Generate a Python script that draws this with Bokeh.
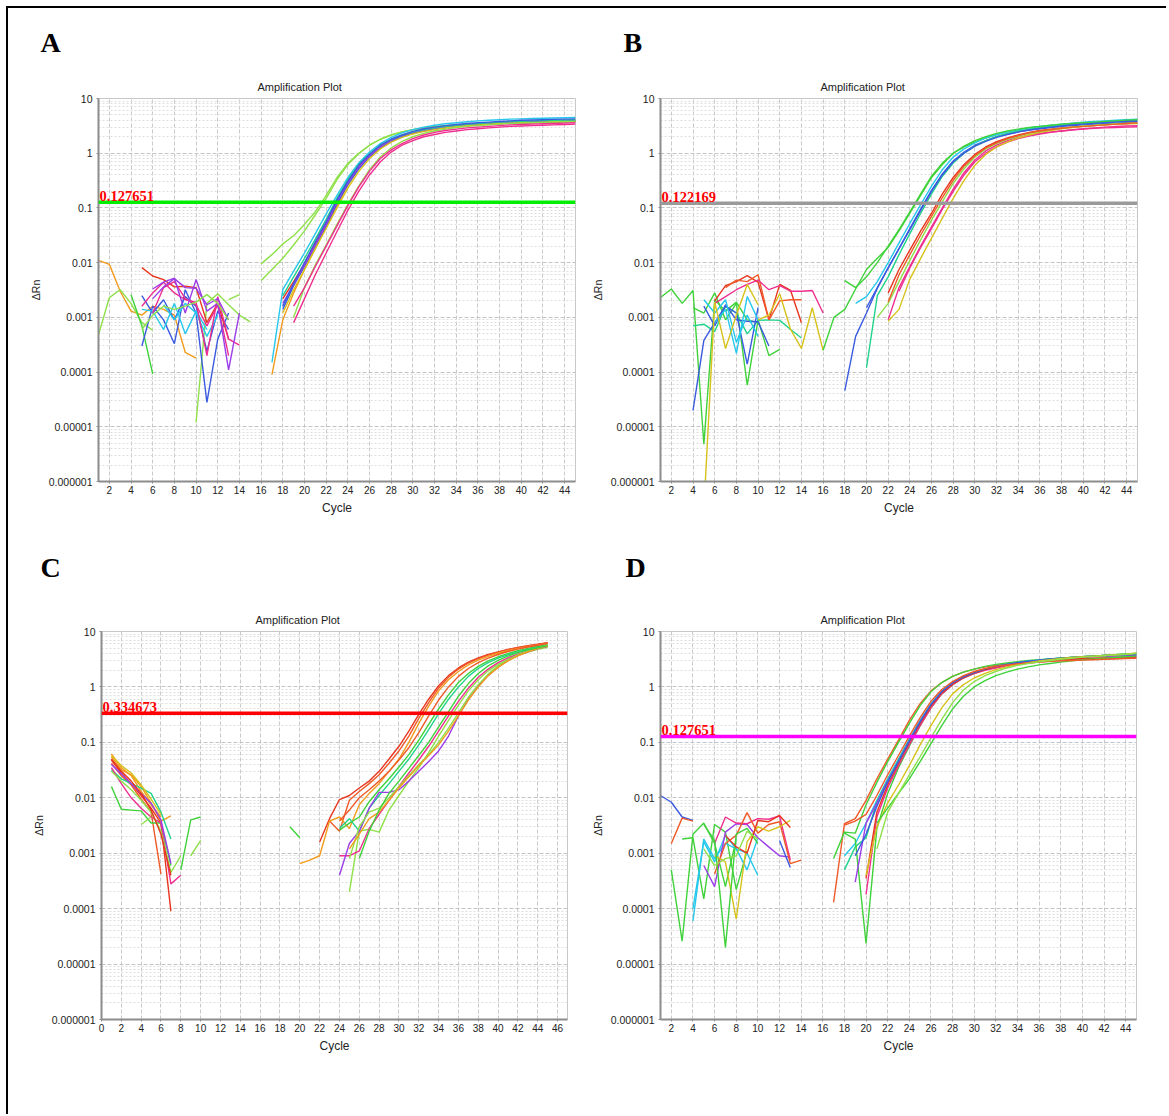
from bokeh.plotting import figure
from bokeh.layouts import row, column
from bokeh.models import FixedTicker, Span, Label, ColumnDataSource, CustomJSTickFormatter, Title
from bokeh.embed import file_html
from bokeh.resources import INLINE

PAL = {"red": "#e8351e", "orange": "#f29b1d", "yellow": "#d6c21c", "green": "#3fd23a",
       "lime": "#8fe04a", "teal": "#1fd38a", "cyan": "#25c8ec", "blue": "#3a5be0",
       "purple": "#9b3de8", "pink": "#ef2f8f", "orred": "#f05a28"}

Y_TICKS = [1e-6, 1e-5, 1e-4, 1e-3, 1e-2, 1e-1, 1, 10]
X_TICKS_ABD = list(range(2, 45, 2))
X_TICKS_C = list(range(0, 47, 2))

# ---------------- Panel A : (first cycle, ΔRn per cycle) ----------------
A_segments = [
    (1, [0.011, 0.0093, 0.003, 0.0013, 0.0011, 0.0016, 0.0014, 0.0011, 0.00023, 0.00018]),
    (1, [0.00048, 0.0023, 0.0032, 0.0018, 0.0008, 0.00058]),
    (4, [0.0026, 0.0007, 0.000093]),
    (10, [0.000012, 0.0018, 0.0027, 0.0017, 0.0011, 0.00083]),
    (5, [0.0003, 0.0016, 0.0009, 0.00033, 0.0032, 0.0012, 0.000028, 0.0004, 0.0012]),
    (5, [0.0025, 0.0012, 0.0021, 0.0009, 0.0024, 0.0016, 0.00024, 0.0013, 0.0006]),
    (5, [0.0014, 0.0013, 0.0006, 0.0018, 0.0005, 0.0013, 0.0006]),
    (7, [0.0017, 0.0009, 0.0018, 0.0012, 0.00045, 0.0011]),
    (5, [0.0081, 0.0057, 0.0049, 0.0036, 0.0037, 0.0035, 0.0008, 0.0018, 0.0004]),
    (5, [0.0016, 0.0028, 0.0044, 0.0028, 0.0021, 0.0019, 0.0002, 0.0024, 0.0004, 0.00031]),
    (6, [0.0012, 0.0035, 0.0045, 0.0022, 0.0017, 0.0007, 0.0017, 0.0002]),
    (6, [0.0033, 0.0044, 0.0052, 0.0012, 0.0049, 0.0013, 0.0018, 0.00011, 0.0012]),
    (6, [0.0022, 0.0036, 0.0051, 0.0035, 0.0034, 0.0017, 0.0022, 0.0009]),
    (5, [0.0006, 0.0011, 0.0016, 0.0014, 0.0016, 0.0019, 0.0026, 0.0018, 0.0009]),
    (13, [0.0021, 0.0026]),
    (16, [0.0095, 0.014, 0.022, 0.031, 0.05, 0.085, 0.17, 0.36, 0.65, 1.0, 1.4, 1.8, 2.15, 2.45, 2.7,
          2.9, 3.05, 3.2, 3.3, 3.4, 3.5, 3.55, 3.6, 3.65, 3.7, 3.75, 3.8, 3.85, 3.9, 3.95]),
    (16, [0.0047, 0.0075, 0.012, 0.021, 0.038, 0.075, 0.15, 0.33, 0.62, 0.98, 1.4, 1.8, 2.15, 2.45, 2.7,
          2.9, 3.05, 3.2, 3.3, 3.4, 3.5, 3.55, 3.6, 3.65, 3.7, 3.75, 3.8, 3.85, 3.9, 3.95]),
    (17, [0.00015, 0.0032, 0.007, 0.015, 0.034, 0.078, 0.17, 0.36, 0.66, 1.05, 1.5, 1.95, 2.35, 2.7, 3.0,
          3.25, 3.45, 3.6, 3.75, 3.9, 4.0, 4.1, 4.2, 4.25, 4.3, 4.35, 4.4, 4.45, 4.5]),
    (17, [0.00009, 0.0009, 0.0028, 0.0075, 0.018, 0.045, 0.11, 0.26, 0.52, 0.88, 1.3, 1.7, 2.05, 2.35, 2.6,
          2.8, 2.95, 3.1, 3.2, 3.3, 3.4, 3.5, 3.55, 3.6, 3.65, 3.7, 3.75, 3.8, 3.85]),
    (18, [0.0022, 0.0045, 0.0095, 0.022, 0.052, 0.14, 0.30, 0.56, 0.90, 1.3, 1.7, 2.05, 2.35, 2.6,
          2.8, 2.95, 3.1, 3.2, 3.3, 3.4, 3.5, 3.55, 3.6, 3.65, 3.7, 3.75, 3.8, 3.85]),
    (18, [0.0014, 0.0038, 0.0085, 0.02, 0.047, 0.12, 0.27, 0.52, 0.86, 1.25, 1.65, 2.0, 2.3, 2.55,
          2.75, 2.95, 3.1, 3.2, 3.3, 3.4, 3.5, 3.55, 3.6, 3.65, 3.7, 3.75, 3.8, 3.85]),
    (18, [0.0018, 0.004, 0.009, 0.021, 0.05, 0.13, 0.29, 0.55, 0.9, 1.3, 1.72, 2.1, 2.4, 2.65,
          2.85, 3.0, 3.15, 3.3, 3.4, 3.5, 3.6, 3.65, 3.7, 3.75, 3.8, 3.85, 3.9, 3.95]),
    (18, [0.0012, 0.0032, 0.0075, 0.018, 0.042, 0.1, 0.23, 0.46, 0.8, 1.2, 1.6, 1.95, 2.25, 2.5,
          2.7, 2.9, 3.05, 3.2, 3.3, 3.4, 3.5, 3.55, 3.6, 3.65, 3.7, 3.75, 3.8, 3.85]),
    (19, [0.001, 0.0035, 0.009, 0.021, 0.05, 0.115, 0.25, 0.5, 0.85, 1.25, 1.65, 2.0, 2.3, 2.55,
          2.75, 2.95, 3.1, 3.2, 3.3, 3.4, 3.5, 3.55, 3.6, 3.65, 3.7, 3.75, 3.8]),
    (19, [0.0008, 0.0022, 0.006, 0.015, 0.037, 0.09, 0.2, 0.4, 0.7, 1.05, 1.4, 1.7, 2.0, 2.2,
          2.4, 2.55, 2.7, 2.8, 2.9, 3.0, 3.1, 3.15, 3.2, 3.25, 3.3, 3.35, 3.4]),
    (19, [0.0016, 0.0035, 0.0085, 0.02, 0.047, 0.11, 0.24, 0.47, 0.8, 1.15, 1.5, 1.85, 2.15, 2.4,
          2.6, 2.75, 2.9, 3.0, 3.1, 3.2, 3.3, 3.35, 3.4, 3.45, 3.5, 3.55, 3.6]),
    (18, [0.0025, 0.0055, 0.012, 0.027, 0.062, 0.15, 0.33, 0.62, 0.98, 1.4, 1.8, 2.15, 2.45, 2.7,
          2.9, 3.1, 3.25, 3.4, 3.5, 3.6, 3.7, 3.8, 3.85, 3.9, 3.95, 4.0, 4.05, 4.1]),
    (18, [0.0016, 0.0042, 0.01, 0.024, 0.056, 0.14, 0.31, 0.6, 0.96, 1.4, 1.8, 2.15, 2.5, 2.8,
          3.0, 3.2, 3.35, 3.5, 3.6, 3.7, 3.8, 3.9, 4.0, 4.05, 4.1, 4.15, 4.2, 4.25]),
]
A_colors = ["orange", "lime", "green", "lime", "blue", "blue", "cyan", "cyan", "red", "pink", "pink",
            "purple", "purple", "lime", "lime", "lime", "lime", "cyan", "orange", "red", "blue",
            "purple", "yellow", "lime", "pink", "pink", "teal", "blue"]

# ---------------- Panel B ----------------
B_segments = [
    (1, [0.0023, 0.0033, 0.0018, 0.0031, 0.0000048, 0.0021, 0.0013, 0.0019, 0.0009, 0.0008]),
    (4, [0.0015, 0.0012, 0.0028, 0.0009, 0.0018, 0.000058, 0.0009, 0.0002, 0.00026]),
    (4, [0.0007, 0.00075, 0.00055, 0.0016, 0.0012, 0.0005, 0.00088, 0.0009, 0.00088, 0.0006, 0.00042]),
    (4, [0.00002, 0.00038, 0.0008, 0.0016, 0.0012, 0.00014, 0.0015]),
    (5, [0.0016, 0.0007, 0.0017, 0.0009, 0.00085, 0.00083, 0.0003]),
    (5, [0.0021, 0.0012, 0.0021, 0.00035, 0.0011, 0.00045]),
    (6, [0.0008, 0.0014, 0.00022, 0.0024, 0.0009]),
    (6, [0.002, 0.0038, 0.0045, 0.0058, 0.0044, 0.0009, 0.004, 0.0031, 0.0008]),
    (7, [0.0035, 0.0048, 0.0045, 0.006, 0.0009, 0.002, 0.0021, 0.0021]),
    (6, [0.0018, 0.0024, 0.0032, 0.004, 0.0048, 0.0032, 0.0038, 0.003, 0.003, 0.0031, 0.0012]),
    (5, [0.0000003, 0.0019, 0.00027, 0.0011, 0.004, 0.0017]),
    (10, [0.0009, 0.0011, 0.0027, 0.0006, 0.00027, 0.0015, 0.00025]),
    (16, [0.00025, 0.001, 0.0014, 0.0033, 0.0075, 0.012, 0.019, 0.038, 0.08, 0.17, 0.36, 0.62, 1.0, 1.3,
          1.6, 1.9, 2.2, 2.45, 2.7, 2.9, 3.05, 3.2, 3.35, 3.5, 3.6, 3.7, 3.8, 3.9, 4.0, 4.1]),
    (18, [0.000046, 0.00045, 0.0012, 0.0034, 0.008, 0.018, 0.042, 0.095, 0.21, 0.42, 0.72, 1.05, 1.4,
          1.7, 2.0, 2.25, 2.45, 2.65, 2.8, 2.95, 3.1, 3.2, 3.3, 3.4, 3.5, 3.55, 3.6, 3.65]),
    (20, [0.00012, 0.0025, 0.0055, 0.014, 0.034, 0.08, 0.18, 0.38, 0.66, 1.0, 1.35, 1.7, 2.0, 2.3,
          2.55, 2.75, 2.95, 3.1, 3.25, 3.4, 3.5, 3.6, 3.7, 3.8, 3.9, 4.0]),
    (19, [0.0018, 0.0024, 0.0045, 0.01, 0.023, 0.052, 0.115, 0.25, 0.5, 0.85, 1.2, 1.55, 1.9, 2.2,
          2.45, 2.7, 2.9, 3.1, 3.25, 3.4, 3.55, 3.7, 3.8, 3.9, 4.0, 4.1, 4.2]),
    (18, [0.0047, 0.0035, 0.0055, 0.01, 0.02, 0.04, 0.085, 0.18, 0.38, 0.66, 1.0, 1.35, 1.7, 2.0,
          2.3, 2.55, 2.75, 2.95, 3.1, 3.25, 3.4, 3.5, 3.6, 3.7, 3.8, 3.9, 4.0, 4.1]),
    (22, [0.0028, 0.0075, 0.017, 0.038, 0.08, 0.18, 0.36, 0.62, 0.95, 1.3, 1.62, 1.9, 2.15, 2.4,
          2.6, 2.75, 2.9, 3.0, 3.1, 3.2, 3.3, 3.4, 3.5, 3.55]),
    (22, [0.0009, 0.0035, 0.0085, 0.02, 0.045, 0.1, 0.22, 0.44, 0.75, 1.1, 1.4, 1.7, 1.95, 2.15,
          2.3, 2.45, 2.55, 2.65, 2.75, 2.85, 2.9, 2.95, 3.0, 3.05]),
    (23, [0.003, 0.008, 0.019, 0.042, 0.095, 0.2, 0.4, 0.7, 1.0, 1.3, 1.6, 1.85, 2.05, 2.25,
          2.4, 2.55, 2.7, 2.8, 2.9, 3.0, 3.1, 3.15, 3.2]),
    (22, [0.00085, 0.0014, 0.005, 0.012, 0.028, 0.065, 0.15, 0.32, 0.6, 0.95, 1.3, 1.6, 1.9, 2.15,
          2.4, 2.6, 2.8, 2.95, 3.1, 3.2, 3.3, 3.4, 3.45, 3.5]),
    (21, [0.001, 0.0018, 0.0045, 0.011, 0.026, 0.06, 0.13, 0.28, 0.52, 0.85, 1.2, 1.5, 1.8, 2.05,
          2.3, 2.5, 2.7, 2.85, 3.0, 3.15, 3.25, 3.35, 3.45, 3.55, 3.65]),
    (20, [0.0015, 0.0035, 0.008, 0.018, 0.04, 0.09, 0.2, 0.4, 0.7, 1.0, 1.35, 1.65, 1.95, 2.2,
          2.45, 2.65, 2.85, 3.0, 3.15, 3.3, 3.4, 3.5, 3.6, 3.7, 3.8, 3.85]),
    (22, [0.0019, 0.006, 0.014, 0.032, 0.07, 0.155, 0.32, 0.58, 0.9, 1.25, 1.55, 1.85, 2.1, 2.35,
          2.55, 2.7, 2.85, 3.0, 3.1, 3.2, 3.3, 3.4, 3.5, 3.6]),
]
B_colors = ["green", "green", "teal", "blue", "blue", "cyan", "cyan", "red", "orred", "pink", "yellow",
            "yellow", "green", "blue", "teal", "cyan", "green", "red", "pink", "pink", "yellow",
            "lime", "blue", "orred"]

# ---------------- Panel C ----------------
C_segments = [
    (1, [0.048, 0.028, 0.018, 0.011, 0.0065, 0.0035, 0.00009]),
    (1, [0.062, 0.035, 0.025, 0.013, 0.0075, 0.0045]),
    (1, [0.055, 0.032, 0.026, 0.016, 0.008, 0.0038, 0.0047]),
    (1, [0.042, 0.025, 0.017, 0.0095, 0.0055, 0.00042]),
    (1, [0.016, 0.0062, 0.006, 0.0058, 0.0035, 0.0035, 0.0006]),
    (1, [0.032, 0.022, 0.018, 0.015, 0.012, 0.0055, 0.0018]),
    (1, [0.035, 0.018, 0.01, 0.0065, 0.0045, 0.0035, 0.00028, 0.0004]),
    (1, [0.04, 0.027, 0.018, 0.012, 0.008, 0.004, 0.00065]),
    (1, [0.03, 0.02, 0.014, 0.009, 0.0055, 0.0025, 0.00045, 0.0009]),
    (1, [0.05, 0.03, 0.02, 0.012, 0.006, 0.0022, 0.0004]),
    (1, [0.058, 0.038, 0.028, 0.017, 0.0095, 0.005]),
    (4, [0.0033, 0.0045]),
    (8, [0.0005, 0.004, 0.0045]),
    (9, [0.0009, 0.0017]),
    (19, [0.003, 0.0019]),
    (22, [0.0016, 0.0042, 0.0093, 0.011, 0.015, 0.02, 0.03, 0.05, 0.085, 0.16, 0.32, 0.6, 1.05, 1.6,
          2.2, 2.8, 3.35, 3.85, 4.3, 4.75, 5.15, 5.55, 5.9, 6.3]),
    (23, [0.0038, 0.0025, 0.009, 0.013, 0.018, 0.026, 0.042, 0.07, 0.13, 0.27, 0.52, 0.95, 1.5, 2.1,
          2.7, 3.25, 3.75, 4.25, 4.7, 5.1, 5.5, 5.85, 6.2]),
    (20, [0.00065, 0.00075, 0.0009, 0.0038, 0.0045, 0.0028, 0.0075, 0.012, 0.018, 0.03, 0.05, 0.1, 0.22,
          0.45, 0.85, 1.35, 1.9, 2.5, 3.05, 3.55, 4.05, 4.5, 4.9, 5.3, 5.65, 6.0]),
    (24, [0.0026, 0.0035, 0.0045, 0.0085, 0.014, 0.022, 0.036, 0.06, 0.11, 0.21, 0.4, 0.72, 1.2, 1.75,
          2.35, 2.95, 3.5, 4.0, 4.5, 4.95, 5.35, 5.75]),
    (24, [0.0028, 0.0042, 0.0025, 0.0065, 0.011, 0.018, 0.03, 0.05, 0.09, 0.17, 0.33, 0.6, 1.0, 1.55,
          2.15, 2.75, 3.3, 3.8, 4.3, 4.75, 5.2, 5.6]),
    (25, [0.0002, 0.0025, 0.0027, 0.0024, 0.006, 0.011, 0.02, 0.035, 0.065, 0.13, 0.25, 0.47, 0.85,
          1.35, 1.95, 2.55, 3.15, 3.7, 4.25, 4.75, 5.2]),
    (24, [0.0009, 0.0009, 0.0011, 0.0028, 0.005, 0.009, 0.016, 0.028, 0.048, 0.085, 0.16, 0.3, 0.55,
          0.95, 1.5, 2.1, 2.75, 3.35, 3.9, 4.45, 4.95, 5.4]),
    (24, [0.0004, 0.0015, 0.0025, 0.0065, 0.0125, 0.0125, 0.014, 0.02, 0.03, 0.045, 0.07, 0.13, 0.3,
          0.6, 1.05, 1.6, 2.3, 3.0, 3.7, 4.3, 4.9, 5.5]),
    (25, [0.0008, 0.003, 0.0055, 0.0065, 0.01, 0.016, 0.025, 0.04, 0.06, 0.1, 0.18, 0.34, 0.65, 1.1,
          1.7, 2.4, 3.1, 3.8, 4.4, 5.0, 5.6]),
    (25, [0.0012, 0.0022, 0.0042, 0.0055, 0.009, 0.015, 0.024, 0.038, 0.058, 0.09, 0.16, 0.3, 0.58,
          1.0, 1.6, 2.25, 2.95, 3.65, 4.3, 4.9, 5.5]),
    (26, [0.0008, 0.0025, 0.006, 0.012, 0.02, 0.034, 0.058, 0.1, 0.19, 0.36, 0.68, 1.15, 1.75, 2.4,
          3.0, 3.6, 4.15, 4.65, 5.1, 5.55]),
    (24, [0.0038, 0.006, 0.01, 0.014, 0.02, 0.03, 0.048, 0.08, 0.15, 0.3, 0.58, 1.0, 1.55, 2.15,
          2.75, 3.3, 3.85, 4.35, 4.8, 5.25, 5.65, 6.1]),
]
C_colors = ["red", "orange", "orange", "orred", "green", "teal", "pink", "purple", "lime", "red",
            "yellow", "lime", "green", "lime", "green", "red", "orred", "orange", "green", "teal",
            "lime", "pink", "purple", "lime", "orange", "green", "orred"]

# ---------------- Panel D ----------------
D_segments = [
    (1, [0.011, 0.0083, 0.0045, 0.0039]),
    (2, [0.0015, 0.0043, 0.0038]),
    (2, [0.0005, 0.000026, 0.0022, 0.0035, 0.0015, 0.00025, 0.0018]),
    (3, [0.0018, 0.0019, 0.00015, 0.0033, 0.0024, 0.00022, 0.0011]),
    (4, [0.00006, 0.0018, 0.0008, 0.0015, 0.0012, 0.001, 0.0004]),
    (4, [0.0001, 0.0016, 0.0007, 0.0021, 0.0012, 0.0005, 0.0019]),
    (5, [0.0006, 0.00025, 0.0024, 0.0034, 0.0033, 0.0019, 0.0013, 0.0009, 0.00085]),
    (6, [0.0015, 0.0045, 0.0035, 0.0034, 0.0042, 0.0041, 0.0047, 0.00075]),
    (6, [0.00042, 0.0015, 0.0021, 0.0054, 0.0023, 0.0033, 0.0037, 0.00065, 0.00075]),
    (6, [0.0009, 0.0007, 0.000065, 0.0016, 0.003, 0.0025, 0.003, 0.0039]),
    (5, [0.0033, 0.0017, 0.00002, 0.0022, 0.0028, 0.0015]),
    (7, [0.0021, 0.0013, 0.001, 0.0039, 0.0037, 0.0048, 0.0029]),
    (12, [0.0017, 0.00055]),
    (5, [0.0012, 0.0006, 0.0008, 0.0009, 0.0025, 0.0018]),
    (17, [0.00013, 0.0034, 0.0042, 0.009, 0.022, 0.05, 0.11, 0.25, 0.5, 0.85, 1.2, 1.55, 1.85, 2.1,
          2.3, 2.45, 2.6, 2.7, 2.8, 2.9, 3.0, 3.05, 3.1, 3.15, 3.2, 3.25, 3.3, 3.35, 3.4]),
    (17, [0.0008, 0.0024, 0.0023, 0.0075, 0.019, 0.045, 0.1, 0.22, 0.46, 0.82, 1.2, 1.55, 1.85, 2.1,
          2.35, 2.55, 2.7, 2.85, 3.0, 3.1, 3.2, 3.3, 3.4, 3.5, 3.6, 3.7, 3.8, 3.9, 4.0]),
    (18, [0.0009, 0.0015, 0.0035, 0.009, 0.022, 0.05, 0.115, 0.25, 0.5, 0.85, 1.2, 1.55, 1.85, 2.1,
          2.35, 2.55, 2.75, 2.9, 3.05, 3.2, 3.3, 3.4, 3.5, 3.6, 3.65, 3.7, 3.75, 3.8]),
    (18, [0.0005, 0.0013, 0.0019, 0.0085, 0.021, 0.048, 0.11, 0.24, 0.48, 0.82, 1.18, 1.52, 1.82, 2.1,
          2.35, 2.55, 2.75, 2.9, 3.05, 3.2, 3.3, 3.4, 3.5, 3.6, 3.7, 3.8, 3.9, 3.95]),
    (18, [0.0023, 0.0018, 0.0000235, 0.0028, 0.012, 0.035, 0.085, 0.2, 0.42, 0.75, 1.1, 1.45, 1.75, 2.05,
          2.3, 2.5, 2.7, 2.85, 3.0, 3.15, 3.3, 3.4, 3.5, 3.6, 3.7, 3.8, 3.9, 4.0]),
    (19, [0.0003, 0.0035, 0.008, 0.02, 0.045, 0.105, 0.235, 0.47, 0.8, 1.15, 1.5, 1.8, 2.05, 2.3,
          2.5, 2.7, 2.85, 3.0, 3.1, 3.2, 3.3, 3.4, 3.5, 3.55, 3.6, 3.65, 3.7]),
    (20, [0.00018, 0.0045, 0.015, 0.038, 0.09, 0.2, 0.42, 0.75, 1.1, 1.45, 1.75, 2.0, 2.2, 2.4,
          2.55, 2.7, 2.8, 2.9, 3.0, 3.1, 3.15, 3.2, 3.25, 3.3, 3.35, 3.4]),
    (20, [0.00035, 0.0055, 0.017, 0.042, 0.1, 0.22, 0.45, 0.78, 1.12, 1.47, 1.78, 2.05, 2.3, 2.5,
          2.65, 2.8, 2.9, 3.0, 3.1, 3.2, 3.25, 3.3, 3.35, 3.4, 3.45, 3.5]),
    (19, [0.0009, 0.0022, 0.007, 0.019, 0.045, 0.105, 0.235, 0.48, 0.82, 1.18, 1.52, 1.82, 2.1, 2.35,
          2.55, 2.75, 2.9, 3.05, 3.2, 3.3, 3.4, 3.5, 3.6, 3.7, 3.75, 3.8, 3.85]),
    (20, [0.0004, 0.003, 0.008, 0.017, 0.038, 0.09, 0.2, 0.42, 0.75, 1.1, 1.45, 1.75, 2.05, 2.3,
          2.55, 2.75, 2.95, 3.1, 3.25, 3.4, 3.5, 3.6, 3.7, 3.8, 3.9, 4.1]),
    (21, [0.0035, 0.0065, 0.012, 0.022, 0.045, 0.095, 0.2, 0.4, 0.68, 1.0, 1.3, 1.6, 1.85, 2.1,
          2.3, 2.5, 2.65, 2.8, 2.95, 3.1, 3.2, 3.3, 3.4, 3.5, 3.6]),
    (18, [0.0032, 0.0038, 0.005, 0.011, 0.026, 0.058, 0.13, 0.28, 0.55, 0.9, 1.25, 1.6, 1.9, 2.15,
          2.35, 2.5, 2.6, 2.7, 2.8, 2.9, 2.95, 3.0, 3.05, 3.1, 3.15, 3.2, 3.25, 3.3]),
    (21, [0.0012, 0.0055, 0.012, 0.026, 0.055, 0.12, 0.26, 0.52, 0.88, 1.25, 1.6, 1.9, 2.2, 2.45,
          2.65, 2.85, 3.0, 3.15, 3.3, 3.45, 3.55, 3.65, 3.75, 3.85, 4.0]),
]
D_colors = ["blue", "orred", "green", "green", "cyan", "cyan", "purple", "pink", "orred", "yellow",
            "green", "red", "blue", "lime", "orred", "green", "cyan", "teal", "green", "purple", "pink",
            "red", "blue", "yellow", "green", "orred", "lime"]

THRESHOLDS = {"A": 0.127651, "B": 0.122169, "C": 0.334673, "D": 0.127651}
THRESHOLD_TEXT = {"A": "0.127651", "B": "0.122169", "C": "0.334673", "D": "0.127651"}

FONT = "Liberation Sans"


def make_panel(letter, letter_off, letter_standoff, segments, colors, thr_color, xr, xticks,
               w, h, mbl, mbr, mbt, mbb, title_off):
    p = figure(width=w, height=h, x_range=xr, y_range=(1e-6, 10), y_axis_type="log",
               output_backend="svg", toolbar_location=None, title=None,
               min_border_left=mbl, min_border_right=mbr, min_border_top=mbt, min_border_bottom=mbb)
    p.add_layout(Title(text="Amplification Plot", align="left", offset=title_off, text_font=FONT,
                       text_font_size="11px", text_font_style="normal", text_color="#222222",
                       standoff=12), "above")
    p.add_layout(Title(text=letter, align="left", offset=letter_off, text_font="Liberation Serif",
                       text_font_size="28px", text_font_style="bold", text_color="#000000",
                       standoff=letter_standoff), "above")

    xt = FixedTicker(ticks=xticks)
    minor = [m * 10.0 ** e for e in range(-6, 1) for m in range(2, 10)]
    yt = FixedTicker(ticks=Y_TICKS, minor_ticks=minor)
    p.xaxis.ticker = xt
    p.yaxis.ticker = yt
    p.xgrid.ticker = xt
    p.ygrid.ticker = yt
    p.yaxis.formatter = CustomJSTickFormatter(code="return tick.toString();")

    p.xgrid.grid_line_color = "#c9c9c9"
    p.xgrid.grid_line_dash = "4 2"
    p.ygrid.grid_line_color = "#c4c4c4"
    p.ygrid.grid_line_dash = "4 2"
    p.ygrid.minor_grid_line_color = "#dedede"
    p.ygrid.minor_grid_line_dash = "2 2"

    p.axis.axis_line_color = "#8c8c8c"
    p.axis.axis_line_width = 2
    p.axis.major_tick_line_color = "#8c8c8c"
    p.axis.major_tick_in = 0
    p.axis.major_tick_out = 2
    p.axis.minor_tick_line_color = None
    p.axis.major_label_standoff = 2
    p.axis.major_label_text_font = FONT
    p.axis.major_label_text_color = "#222222"
    p.xaxis.major_label_text_font_size = "10px"
    p.yaxis.major_label_text_font_size = "10.5px"
    p.xaxis.axis_label = "Cycle"
    p.yaxis.axis_label = "ΔRn"
    p.axis.axis_label_text_font = FONT
    p.axis.axis_label_text_font_style = "normal"
    p.axis.axis_label_text_color = "#222222"
    p.xaxis.axis_label_text_font_size = "12px"
    p.yaxis.axis_label_text_font_size = "10.5px"
    p.axis.axis_label_standoff = 4
    p.outline_line_color = "#c8c8c8"

    xs = [list(range(s, s + len(v))) for s, v in segments]
    ys = [list(v) for s, v in segments]
    src = ColumnDataSource(dict(xs=xs, ys=ys, c=[PAL[k] for k in colors]))
    p.multi_line("xs", "ys", line_color="c", line_width=1.4, source=src)

    thr = THRESHOLDS[letter]
    p.add_layout(Span(location=thr, dimension="width", line_color=thr_color, line_width=3.5))
    p.add_layout(Label(x=xr[0], y=thr, text=THRESHOLD_TEXT[letter], text_color="#ff0000",
                       text_font="Liberation Serif", text_font_size="14.5px", text_font_style="bold",
                       text_baseline="bottom", x_offset=1, y_offset=1))
    return p


pA = make_panel("A", -58, 29, A_segments, A_colors, "#00ee00", (1, 45), X_TICKS_ABD,
                580, 515, 90, 13, 90, 42, 159)
pB = make_panel("B", -37, 29, B_segments, B_colors, "#9a9a9a", (1, 45), X_TICKS_ABD,
                578, 515, 72, 29, 90, 42, 160)
pC = make_panel("C", -61, 45, C_segments, C_colors, "#ff0000", (0, 47), X_TICKS_C,
                580, 591, 93, 21, 108, 78, 154)
pD = make_panel("D", -35, 45, D_segments, D_colors, "#ff00ff", (1, 45), X_TICKS_ABD,
                578, 591, 70, 30, 108, 95, 160)

layout = column(row(pA, pB), row(pC, pD),
                styles={"border-top": "2px solid #000", "border-left": "2px solid #000",
                        "margin-top": "6px", "margin-left": "6px"})

open("out.html", "w").write(file_html(layout, INLINE))
